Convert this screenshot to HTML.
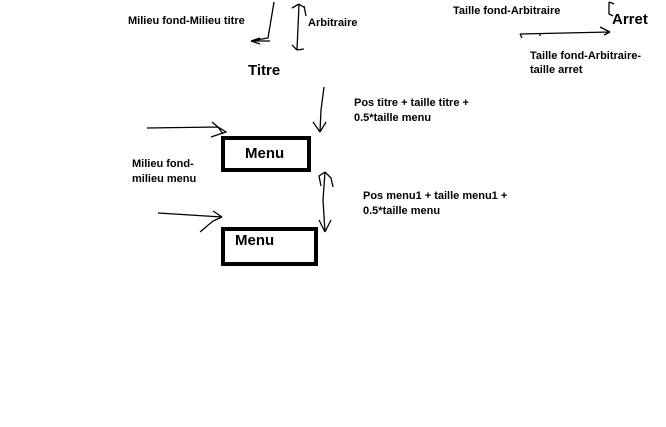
<!DOCTYPE html>
<html><head><meta charset="utf-8"><style>
html,body{margin:0;padding:0;background:#fff;}
svg{display:block}
text{font-family:"Liberation Sans",sans-serif;font-weight:bold;fill:#000;}
.s{font-size:11px}
.b{font-size:15px}
</style></head><body>
<svg width="666" height="427" viewBox="0 0 666 427" xmlns="http://www.w3.org/2000/svg">
<g fill="none" stroke="#000" stroke-width="1.3">
<!-- milieu titre arrow -->
<path d="M274 2 L271 20 L268 38 L251 41 M251 41 L260 38 M251 41 L260 44 M251 41 L270 41"/>
<!-- arbitraire -->
<path d="M299 4 L297 50 M299 4 L292 8 M299 4 L305 8 M306 16 L304 6 M297 50 L292 45 M297 50 L304 49"/>
<!-- arrow down to menu1 -->
<path d="M324 87 L321 110 L320 132 M320 132 L313 122 M320 132 L326 122"/>
<!-- left arrow menu1 -->
<path d="M147 128 L218 127 M218 127 L212 122 M218 127 L226 132 L211 137 M218 127 L223 134"/>
<!-- double arrow between menus -->
<path d="M325 172 L323 200 L325 232 M325 172 L319 176 L321 186 M325 172 L331 178 L333 187 M325 232 L319 220 M325 232 L331 220"/>
<!-- left arrow menu2 -->
<path d="M158 213 L222 217 M222 217 L213 211 M222 217 L213 221 L200 232"/>
<!-- top right -->
<path d="M609 2 L614 4 M609 2 L609 14 L613 16 M520 34 L610 32 M520 34 L522 38 M610 32 L600 27 M610 32 L604 35 M540 33 L540 36"/>
</g>
<rect x="223" y="138" width="86" height="32" fill="none" stroke="#000" stroke-width="4"/>
<rect x="223" y="229" width="93" height="35" fill="none" stroke="#000" stroke-width="4"/>
<text class="s" x="128" y="24">Milieu fond-Milieu titre</text>
<text class="s" x="308" y="26">Arbitraire</text>
<text class="b" x="248" y="75">Titre</text>
<text class="s" x="354" y="106">Pos titre + taille titre +</text>
<text class="s" x="354" y="121">0.5*taille menu</text>
<text class="b" x="245" y="158">Menu</text>
<text class="s" x="132" y="167">Milieu fond-</text>
<text class="s" x="132" y="182">milieu menu</text>
<text class="s" x="363" y="199">Pos menu1 + taille menu1 +</text>
<text class="s" x="363" y="214">0.5*taille menu</text>
<text class="b" x="235" y="245">Menu</text>
<text class="s" x="453" y="14">Taille fond-Arbitraire</text>
<text class="b" x="612" y="24">Arret</text>
<text class="s" x="530" y="59">Taille fond-Arbitraire-</text>
<text class="s" x="530" y="73">taille arret</text>
</svg>
</body></html>
